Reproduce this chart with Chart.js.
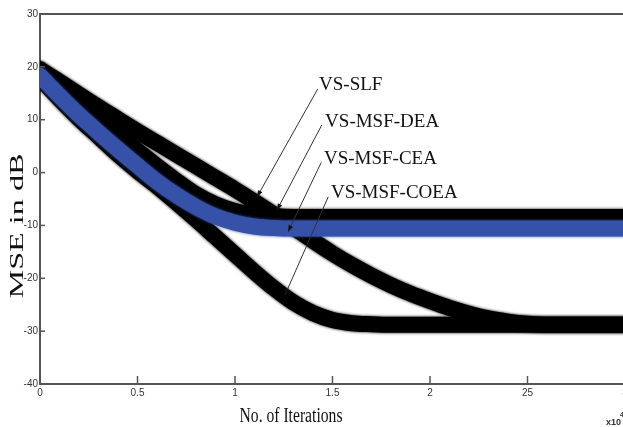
<!DOCTYPE html>
<html><head><meta charset="utf-8">
<script src="https://cdn.jsdelivr.net/npm/chart.js@4.4.0/dist/chart.umd.min.js"></script>
<style>html,body{margin:0;padding:0;overflow:hidden;background:#fff}#wrap{width:640px;height:427px}</style>
</head><body><div id="wrap"><canvas id="c" width="640" height="427"></canvas></div>
<script>
// Iterations (x 10^4)
const iterations = [0,0.1,0.2,0.3,0.4,0.5,0.6,0.7,0.8,0.9,1.0,1.1,1.2,1.3,1.4,1.5,1.6,1.7,1.8,1.9,2.0,2.1,2.2,2.3,2.4,2.5,2.6,2.7,2.8,2.9,3.0];
// MSE in dB
const vsSLF     = [19.8,16.8,13.6,10.5,7.4,4.5,1.6,-1.2,-3.8,-5.7,-7.0,-7.7,-8.0,-8.1,-8.1,-8.1,-8.1,-8.1,-8.1,-8.1,-8.1,-8.1,-8.1,-8.1,-8.1,-8.1,-8.1,-8.1,-8.1,-8.1,-8.1];
const vsMsfDEA  = [18.3,14.5,10.9,7.6,4.4,1.3,-1.7,-4.3,-6.5,-8.3,-9.5,-10.2,-10.5,-10.6,-10.6,-10.6,-10.6,-10.6,-10.6,-10.6,-10.6,-10.6,-10.6,-10.6,-10.6,-10.6,-10.6,-10.6,-10.6,-10.6,-10.6];
const vsMsfCEA  = [19.5,17.2,14.8,12.4,10.1,7.8,5.6,3.4,1.2,-1.0,-3.2,-5.5,-7.9,-10.4,-12.9,-15.3,-17.5,-19.5,-21.3,-22.9,-24.3,-25.6,-26.7,-27.6,-28.2,-28.6,-28.8,-28.8,-28.8,-28.8,-28.8];
const vsMsfCOEA = [17.8,13.9,10.2,6.8,3.4,0.3,-2.6,-5.7,-8.9,-12.2,-15.5,-18.8,-21.9,-24.6,-26.6,-27.9,-28.5,-28.7,-28.8,-28.8,-28.8,-28.8,-28.8,-28.8,-28.8,-28.8,-28.8,-28.8,-28.8,-28.8,-28.8];
const seriesNames = ['VS-SLF','VS-MSF-DEA','VS-MSF-CEA','VS-MSF-COEA'];
const xTickValues = [0,0.5,1,1.5,2,2.5,3];
const xTickLabels = ['0','0.5','1','1.5','2','25','3'];
const yTickValues = [30,20,10,0,-10,-20,-30,-40];
const yTickLabels = ['30','20','10','0','-10','-20','-30','-40'];

const pts = arr => iterations.map((x,i)=>({x:x,y:arr[i]}));

// annotation placement (data coordinates)
const notes = [
  {name:seriesNames[0], tx:1.431, ty:16.6, sx:1.424, sy:15.8, ex:1.113, ey:-4.6},
  {name:seriesNames[1], tx:1.462, ty:9.6,  sx:1.445, sy:9.0,  ex:1.215, ey:-7.1},
  {name:seriesNames[2], tx:1.456, ty:2.6,  sx:1.442, sy:1.9,  ex:1.272, ey:-11.2},
  {name:seriesNames[3], tx:1.492, ty:-3.9, sx:1.478, sy:-4.6, ex:1.256, ey:-23.2}
];

const fuzz = {
  id:'fuzz',
  beforeDatasetDraw(chart,args){
    const c=chart.ctx; c.save();
    c.shadowColor = args.meta.dataset.options.borderColor;
    c.shadowBlur = 3;
  },
  afterDatasetDraw(chart){ chart.ctx.restore(); }
};

const decor = {
  id:'decor',
  afterDraw(chart){
    const c=chart.ctx, ca=chart.chartArea, X=chart.scales.x, Y=chart.scales.y;
    c.save();
    c.strokeStyle='#555'; c.lineWidth=2;
    c.beginPath(); c.moveTo(ca.left,ca.top); c.lineTo(ca.right,ca.top); c.lineTo(ca.right,ca.bottom); c.stroke();
    c.lineWidth=1.5;
    xTickValues.forEach(v=>{const p=X.getPixelForValue(v); c.beginPath(); c.moveTo(p,ca.bottom); c.lineTo(p,ca.bottom-8); c.stroke();});
    yTickValues.forEach(v=>{const p=Y.getPixelForValue(v); c.beginPath(); c.moveTo(ca.left,p); c.lineTo(ca.left+5,p); c.stroke();});
    // annotations
    c.fillStyle='#111'; c.strokeStyle='#333'; c.lineWidth=1;
    c.font='19px "Liberation Serif", "DejaVu Serif", serif';
    c.textBaseline='middle'; c.textAlign='left';
    notes.forEach(n=>{
      c.fillText(n.name, X.getPixelForValue(n.tx), Y.getPixelForValue(n.ty));
      const x0=X.getPixelForValue(n.sx), y0=Y.getPixelForValue(n.sy), x1=X.getPixelForValue(n.ex), y1=Y.getPixelForValue(n.ey);
      c.beginPath(); c.moveTo(x0,y0); c.lineTo(x1,y1); c.stroke();
      const a=Math.atan2(y1-y0,x1-x0), L=7, w=0.35;
      c.beginPath(); c.moveTo(x1,y1);
      c.lineTo(x1-L*Math.cos(a-w), y1-L*Math.sin(a-w));
      c.lineTo(x1-L*Math.cos(a+w), y1-L*Math.sin(a+w));
      c.closePath(); c.fill();
    });
    // axis titles
    c.fillStyle='#111';
    c.font='20px "Liberation Serif", serif';
    c.textAlign='center'; c.textBaseline='alphabetic';
    let t='No. of Iterations', w0=c.measureText(t).width;
    c.save(); c.translate(291,422); c.scale(103/w0,1); c.fillText(t,0,0); c.restore();
    c.font='19px "Liberation Serif", serif';
    t='MSE in dB'; w0=c.measureText(t).width;
    c.save(); c.translate(23,226); c.rotate(-Math.PI/2); c.scale(145/w0,1); c.fillText(t,0,0); c.restore();
    // exponent
    c.font='bold 9px "Liberation Sans Narrow", "Liberation Sans", sans-serif';
    c.textAlign='left'; c.fillStyle='#333';
    c.fillText('x10',606,425);
    c.font='bold 7px "Liberation Sans", sans-serif';
    c.fillText('4',620,417);
    c.restore();
  }
};

const tickFont = {family:'"Liberation Sans Narrow", "Liberation Sans", sans-serif', size:10};

new Chart(document.getElementById('c'), {
  type:'line',
  data:{datasets:[
    {label:seriesNames[1], data:pts(vsMsfDEA),  borderColor:'#3551a8', borderWidth:16, order:0},
    {label:seriesNames[0], data:pts(vsSLF),     borderColor:'#000000', borderWidth:13, order:1},
    {label:seriesNames[2], data:pts(vsMsfCEA),  borderColor:'#000000', borderWidth:16, order:2},
    {label:seriesNames[3], data:pts(vsMsfCOEA), borderColor:'#000000', borderWidth:16, order:3}
  ]},
  options:{
    responsive:false, animation:false,
    layout:{padding:{top:14,right:15,left:0,bottom:0}},
    plugins:{legend:{display:false},tooltip:{enabled:false}},
    elements:{point:{radius:0}, line:{tension:0.35, cubicInterpolationMode:'monotone', borderCapStyle:'round', borderJoinStyle:'round', fill:false}},
    scales:{
      x:{type:'linear', min:0, max:3,
        afterFit(s){s.height=43;},
        afterBuildTicks(s){s.ticks=xTickValues.map(v=>({value:v}));},
        ticks:{autoSkip:false, maxRotation:0, padding:3, color:'#333', font:tickFont,
          callback:(v)=>{const i=xTickValues.indexOf(v); return i>=0?xTickLabels[i]:'';}},
        grid:{display:false, drawTicks:false}, border:{display:true,color:'#555',width:2}},
      y:{type:'linear', min:-40, max:30,
        afterFit(s){s.width=40;},
        afterBuildTicks(s){s.ticks=yTickValues.map(v=>({value:v}));},
        ticks:{autoSkip:false, padding:2, color:'#333', font:tickFont,
          callback:(v)=>{const i=yTickValues.indexOf(v); return i>=0?yTickLabels[i]:'';}},
        grid:{display:false, drawTicks:false}, border:{display:true,color:'#555',width:2}}
    }
  },
  plugins:[fuzz, decor]
});
</script>
</body></html>
